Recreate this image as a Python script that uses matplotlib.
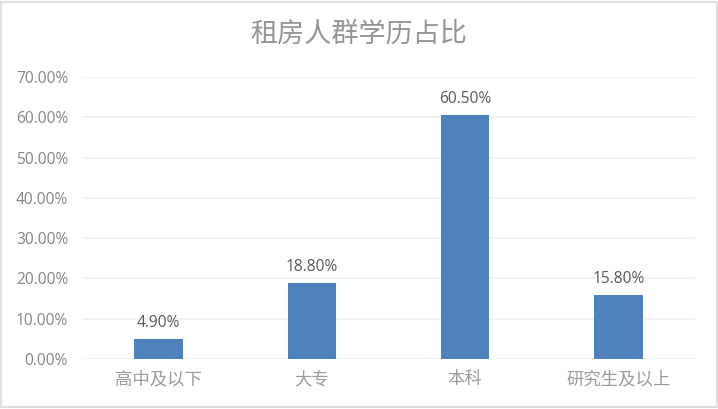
import matplotlib
matplotlib.use("Agg")
from matplotlib import pyplot as plt
from matplotlib.patches import Rectangle
from matplotlib.ticker import FuncFormatter

categories = ["高中及以下", "大专", "本科", "研究生及以上"]
values = [4.90, 18.80, 60.50, 15.80]
yticks = [0, 10, 20, 30, 40, 50, 60, 70]

plt.rcParams['font.family'] = ['Noto Sans CJK SC', 'DejaVu Sans']

fig = plt.figure(figsize=(7.18, 4.09), dpi=100)
ax = fig.add_axes([0.1142, 0.1222, 0.8538, 0.6895])

x = range(len(categories))
bars = ax.bar(x, values, width=0.315, color="#4f81bd", zorder=3)

for b, v in zip(bars, values):
    ax.text(b.get_x() + b.get_width() / 2, v + 2.0, "%.2f%%" % v,
            ha="center", va="bottom", fontsize=11.2, color="#595959",
            family=["Open Sans", "DejaVu Sans"])

ax.set_xlim(-0.5, len(categories) - 0.5)
ax.set_ylim(0, 70)
ax.set_yticks(yticks)
ax.yaxis.set_major_formatter(FuncFormatter(lambda v, p: "%.2f%%" % v))
ax.set_xticks(list(x))
ax.set_xticklabels(categories, fontsize=12.5, color="#9a9a9a", fontweight="light")
for t in ax.get_yticklabels():
    t.set_family(["Open Sans", "DejaVu Sans"])
    t.set_fontsize(11.2)
    t.set_color("#858585")

ax.grid(axis="y", color="#f0f0f0", linewidth=1.2, zorder=0)
for s in ax.spines.values():
    s.set_visible(False)
ax.tick_params(axis="both", length=0)
ax.tick_params(axis="x", pad=8)
ax.tick_params(axis="y", pad=10)

fig.text(0.5, 0.917, "租房人群学历占比", ha="center", va="center",
         fontsize=19.5, color="#959595", fontweight="light")

fig.patches.append(Rectangle((0.002, 0.004), 0.996, 0.992, transform=fig.transFigure,
                             fill=False, edgecolor="#e0e0e0", linewidth=1.5))

plt.savefig("out.png", dpi=100)
